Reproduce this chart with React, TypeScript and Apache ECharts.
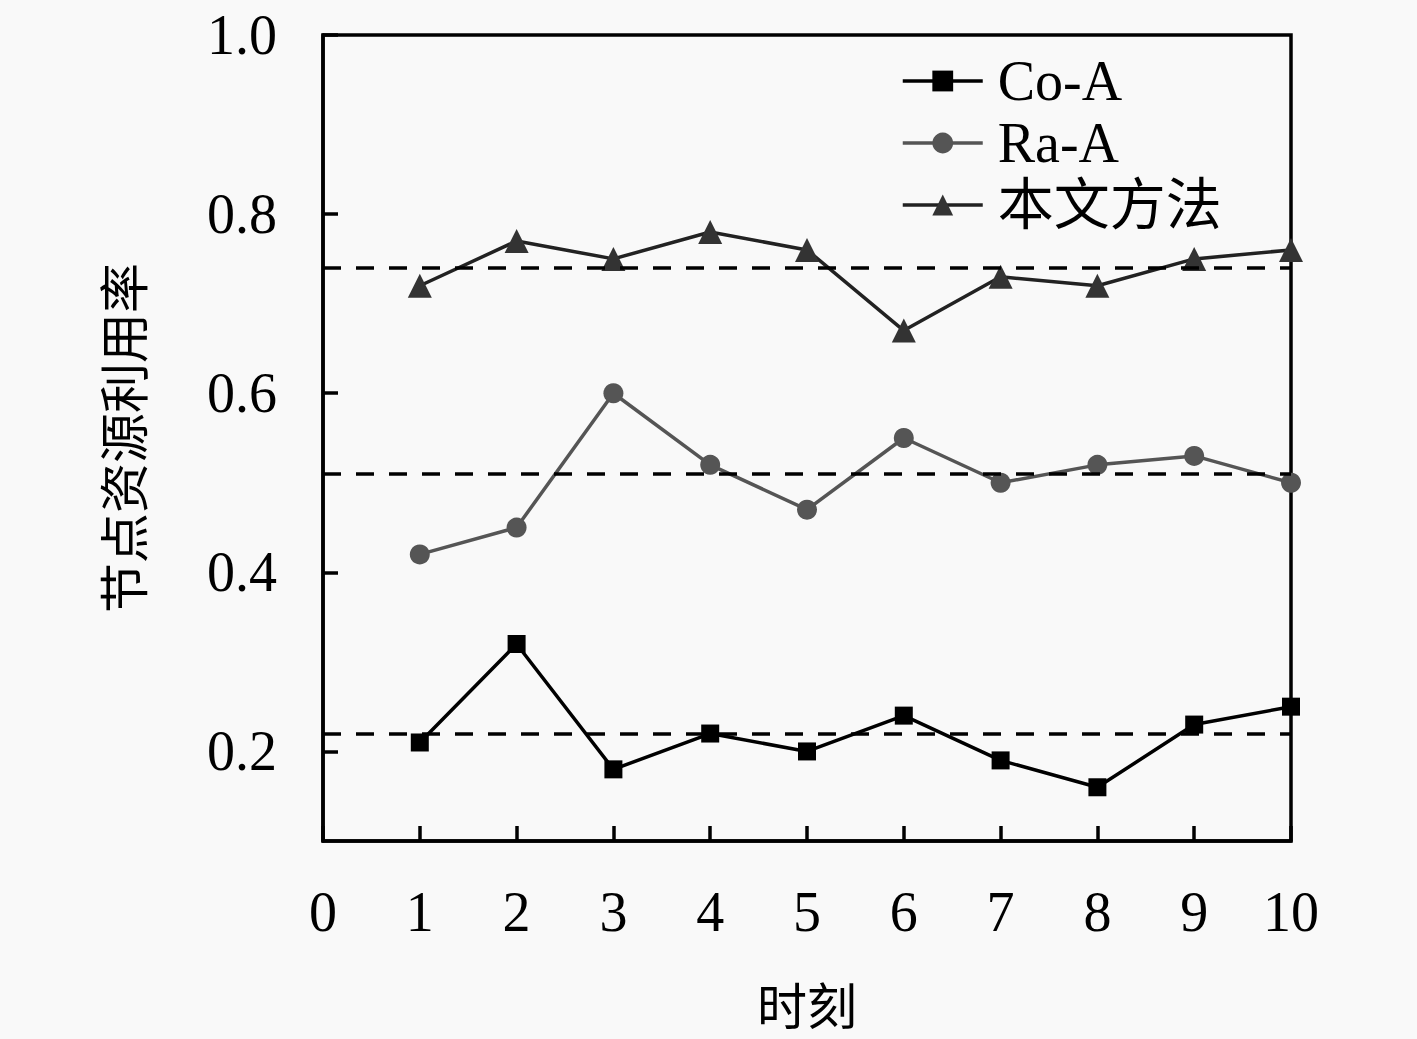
import React, { useEffect, useRef } from "react";
import * as echarts from "echarts";

// 时刻
const moments = [1, 2, 3, 4, 5, 6, 7, 8, 9, 10];
// 各方法的节点资源利用率
const coA = [0.21, 0.32, 0.18, 0.22, 0.2, 0.24, 0.19, 0.16, 0.23, 0.25];
const raA = [0.42, 0.45, 0.6, 0.52, 0.47, 0.55, 0.5, 0.52, 0.53, 0.5];
const ours = [0.72, 0.77, 0.75, 0.78, 0.76, 0.67, 0.73, 0.72, 0.75, 0.76];
const seriesNames = ["Co-A", "Ra-A", "本文方法"];
const yTicks = [0.2, 0.4, 0.6, 0.8, 1.0];

const FONT = "'Liberation Serif', 'Noto Sans CJK SC', serif";
const CJK = "'Noto Sans CJK SC', sans-serif";

export default function App() {
  const chartRef = useRef<HTMLDivElement>(null);

  useEffect(() => {
    if (!chartRef.current) return;
    const chart = echarts.init(chartRef.current, null, { renderer: "svg" });

    const avgLine = {
      silent: true,
      symbol: "none",
      label: { show: false },
      lineStyle: { color: "#000", type: [18, 15], width: 3.5 },
      data: [{ type: "average" }],
    };

    const toPairs = (vals: number[]) => moments.map((m, i) => [m, vals[i]]);

    chart.setOption({
      animation: false,
      backgroundColor: "#f9f9f9",
      grid: {
        left: 323,
        right: 126,
        top: 35,
        bottom: 198,
        show: true,
        borderColor: "#000",
        borderWidth: 3.5,
        backgroundColor: "transparent",
      },
      legend: {
        orient: "vertical",
        left: 896,
        top: 48,
        itemWidth: 80,
        itemHeight: 26,
        itemGap: 6,
        lineStyle: { width: 3.5 },
        textStyle: {
          fontFamily: FONT,
          fontSize: 56,
          color: "#000",
          lineHeight: 54,
          padding: [0, 0, 0, 10],
        },
        data: seriesNames,
      },
      xAxis: {
        type: "value",
        min: 0,
        max: 10,
        interval: 1,
        name: "时刻",
        nameLocation: "middle",
        nameGap: 137,
        nameTextStyle: { fontFamily: CJK, fontSize: 50, color: "#000" },
        axisLine: { lineStyle: { color: "#000", width: 3.5 } },
        axisTick: { inside: true, length: 15, lineStyle: { color: "#000", width: 3.5 } },
        axisLabel: { margin: 43, fontFamily: FONT, fontSize: 56, color: "#000" },
        splitLine: { show: false },
      },
      yAxis: {
        type: "value",
        min: 0.1,
        max: 1.0,
        name: "节点资源利用率",
        nameLocation: "middle",
        nameGap: 177,
        nameTextStyle: { fontFamily: CJK, fontSize: 50, color: "#000" },
        axisLine: { lineStyle: { color: "#000", width: 3.5 } },
        axisTick: {
          inside: true,
          length: 15,
          customValues: yTicks,
          lineStyle: { color: "#000", width: 3.5 },
        },
        axisLabel: {
          margin: 46,
          customValues: yTicks,
          fontFamily: FONT,
          fontSize: 56,
          color: "#000",
          formatter: (v: number) => v.toFixed(1),
        },
        splitLine: { show: false },
      },
      series: [
        {
          name: seriesNames[0],
          type: "line",
          data: toPairs(coA),
          symbol: "rect",
          symbolSize: 18,
          itemStyle: { color: "#000" },
          lineStyle: { color: "#000", width: 3.5 },
          markLine: avgLine,
        },
        {
          name: seriesNames[1],
          type: "line",
          data: toPairs(raA),
          symbol: "circle",
          symbolSize: 20,
          itemStyle: { color: "#555" },
          lineStyle: { color: "#555", width: 3.5 },
          markLine: avgLine,
        },
        {
          name: seriesNames[2],
          type: "line",
          data: toPairs(ours),
          symbol: "triangle",
          symbolSize: 24,
          itemStyle: { color: "#333" },
          lineStyle: { color: "#222", width: 3.5 },
          markLine: avgLine,
        },
      ],
    });

    return () => {
      chart.dispose();
    };
  }, []);

  return (
    <div
      ref={chartRef}
      style={{ position: "fixed", left: 0, top: 0, width: "1417px", height: "1039px" }}
    />
  );
}
